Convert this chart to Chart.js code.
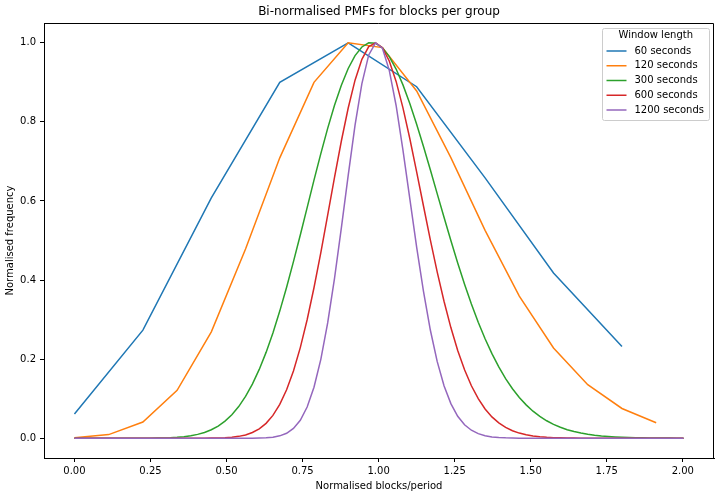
<!DOCTYPE html>
<html>
<head>
<meta charset="utf-8">
<script src="https://cdn.jsdelivr.net/npm/chart.js@4.4.1/dist/chart.umd.min.js"></script>
<style>
  html, body { margin: 0; padding: 0; background: #fff; }
</style>
</head>
<body>
<canvas id="myChart" width="720" height="496"></canvas>
<script>
// 60 s and 120 s windows have coarse steps
var x60 = [0, 0.225, 0.45, 0.675, 0.9, 1.125, 1.35, 1.575, 1.8];
var y60 = [0.0615, 0.2734, 0.6075, 0.9, 1.0, 0.8889, 0.6584, 0.418, 0.2322];

var x120 = [0, 0.1125, 0.225, 0.3375, 0.45, 0.5625, 0.675, 0.7875, 0.9,
            1.0125, 1.125, 1.2375, 1.35, 1.4625, 1.575, 1.6875, 1.8, 1.9125];
var y120 = [0.001, 0.0092, 0.0409, 0.1211, 0.2691, 0.4785, 0.709, 0.9, 1.0,
            0.9878, 0.8781, 0.7097, 0.5257, 0.3595, 0.2283, 0.1353, 0.0752, 0.0393];

// finer grid shared by the longer windows
var xFine = [
  0, 0.0225, 0.045, 0.0675, 0.09, 0.1125, 0.135, 0.1575, 0.18, 0.2025,
  0.225, 0.2475, 0.27, 0.2925, 0.315, 0.3375, 0.36, 0.3825, 0.405, 0.4275,
  0.45, 0.4725, 0.495, 0.5175, 0.54, 0.5625, 0.585, 0.6075, 0.63, 0.6525,
  0.675, 0.6975, 0.72, 0.7425, 0.765, 0.7875, 0.81, 0.8325, 0.855, 0.8775,
  0.9, 0.9225, 0.945, 0.9675, 0.99, 1.0125, 1.035, 1.0575, 1.08, 1.1025,
  1.125, 1.1475, 1.17, 1.1925, 1.215, 1.2375, 1.26, 1.2825, 1.305, 1.3275,
  1.35, 1.3725, 1.395, 1.4175, 1.44, 1.4625, 1.485, 1.5075, 1.53, 1.5525,
  1.575, 1.5975, 1.62, 1.6425, 1.665, 1.6875, 1.71, 1.7325, 1.755, 1.7775,
  1.8, 1.8225, 1.845, 1.8675, 1.89, 1.9125, 1.935, 1.9575, 1.98, 2.0025
];

var y300 = [
  0, 0, 0, 0, 0, 0, 0, 0, 0, 0,
  0.0001, 0.0002, 0.0004, 0.0008, 0.0014, 0.0024, 0.0039, 0.0062, 0.0097, 0.0146,
  0.0214, 0.0308, 0.0433, 0.0595, 0.0801, 0.1057, 0.1368, 0.174, 0.2171, 0.2663,
  0.3215, 0.3818, 0.4465, 0.5139, 0.5833, 0.6526, 0.7198, 0.7835, 0.8418, 0.8927,
  0.935, 0.9676, 0.9894, 1.0, 0.9991, 0.9873, 0.9651, 0.9335, 0.8935, 0.8467,
  0.7941, 0.7379, 0.6787, 0.6185, 0.5586, 0.4998, 0.4432, 0.3896, 0.3397, 0.2935,
  0.2516, 0.2139, 0.1804, 0.1509, 0.1252, 0.1031, 0.0844, 0.0684, 0.0551, 0.0441,
  0.035, 0.0276, 0.0216, 0.0168, 0.013, 0.01, 0.0076, 0.0057, 0.0043, 0.0032,
  0.0024, 0.0018, 0.0013, 0.0009, 0.0007, 0.0005, 0.0004, 0.0003, 0.0002, 0.0001
];

var y600 = [
  0, 0, 0, 0, 0, 0, 0, 0, 0, 0,
  0, 0, 0, 0, 0, 0, 0, 0, 0, 0.0001,
  0.0003, 0.0007, 0.0013, 0.0026, 0.0047, 0.0084, 0.0144, 0.0237, 0.0376, 0.0577,
  0.0855, 0.1226, 0.1702, 0.2292, 0.2996, 0.3805, 0.4696, 0.5639, 0.6596, 0.7516,
  0.8351, 0.9055, 0.958, 0.9902, 1.0, 0.9875, 0.9539, 0.9023, 0.8353, 0.7579,
  0.6734, 0.5872, 0.5017, 0.4206, 0.3463, 0.2798, 0.222, 0.1731, 0.1327, 0.0999,
  0.074, 0.0539, 0.0387, 0.0273, 0.0189, 0.013, 0.0087, 0.0058, 0.0038, 0.0024,
  0.0015, 0.001, 0.0006, 0.0004, 0.0002, 0.0001, 0, 0, 0, 0,
  0, 0, 0, 0, 0, 0, 0, 0, 0, 0
];

var y1200 = [
  0, 0, 0, 0, 0, 0, 0, 0, 0, 0,
  0, 0, 0, 0, 0, 0, 0, 0, 0, 0,
  0, 0, 0, 0, 0, 0, 0, 0.0004, 0.0011, 0.0027,
  0.006, 0.0126, 0.0247, 0.0455, 0.0789, 0.1291, 0.1995, 0.2916, 0.4044, 0.5319,
  0.6648, 0.7915, 0.8968, 0.9693, 1.0, 0.9861, 0.9303, 0.8414, 0.7287, 0.6061,
  0.4833, 0.3712, 0.2736, 0.1942, 0.1328, 0.0875, 0.0556, 0.0341, 0.0202, 0.0116,
  0.0064, 0.0034, 0.0018, 0.0009, 0.0004, 0.0002, 0.0001, 0, 0, 0,
  0, 0, 0, 0, 0, 0, 0, 0, 0, 0,
  0, 0, 0, 0, 0, 0, 0, 0, 0, 0
];

var seriesLabels = ['60 seconds', '120 seconds', '300 seconds', '600 seconds', '1200 seconds'];
var seriesColors = ['#1f77b4', '#ff7f0e', '#2ca02c', '#d62728', '#9467bd'];

function pts(xs, ys) {
    return xs.map(function(x, i) { return {x: x, y: ys[i]}; });
}

var font = {family: '"DejaVu Sans", sans-serif', size: 10};

// top/right spines like matplotlib's box
var frameBox = {
    id: 'frameBox',
    afterDatasetsDraw: function(chart) {
        var a = chart.chartArea, ctx = chart.ctx;
        ctx.save();
        ctx.strokeStyle = '#000';
        ctx.lineWidth = 1;
        ctx.beginPath();
        ctx.moveTo(a.left, a.top + 0.5);
        ctx.lineTo(a.right - 0.5, a.top + 0.5);
        ctx.lineTo(a.right - 0.5, a.bottom);
        ctx.stroke();
        ctx.restore();
    }
};

// legend box drawn inside the plot, upper right
var boxLegend = {
    id: 'boxLegend',
    afterDraw: function(chart) {
        var a = chart.chartArea, ctx = chart.ctx;
        ctx.save();
        ctx.font = '10px "DejaVu Sans", sans-serif';
        var maxW = 0;
        seriesLabels.forEach(function(l) { maxW = Math.max(maxW, ctx.measureText(l).width); });
        var pad = 4, handle = 20, gap = 8;
        var w = pad + handle + gap + maxW + pad + 1;
        var right = a.right - 5, top = a.top + 5;
        var left = right - w, h = 92;
        ctx.fillStyle = 'rgba(255,255,255,0.8)';
        ctx.strokeStyle = '#cccccc';
        ctx.lineWidth = 1;
        ctx.beginPath();
        ctx.roundRect(Math.round(left) + 0.5, Math.round(top) + 0.5, Math.round(w), h, 2);
        ctx.fill();
        ctx.stroke();
        ctx.fillStyle = '#000';
        ctx.textBaseline = 'middle';
        ctx.textAlign = 'center';
        ctx.fillText('Window length', left + w / 2, top + 7.5);
        ctx.textAlign = 'left';
        seriesLabels.forEach(function(l, i) {
            var yy = top + 23 + i * 14.75;
            ctx.strokeStyle = seriesColors[i];
            ctx.lineWidth = 1.5;
            ctx.beginPath();
            ctx.moveTo(left + pad, yy);
            ctx.lineTo(left + pad + handle, yy);
            ctx.stroke();
            ctx.fillStyle = '#000';
            ctx.fillText(l, left + pad + handle + gap, yy);
        });
        ctx.restore();
    }
};

var allData = [pts(x60, y60), pts(x120, y120), pts(xFine, y300), pts(xFine, y600), pts(xFine, y1200)];

var ctx = document.getElementById('myChart').getContext('2d');
var myChart = new Chart(ctx, {
    type: 'line',
    data: {
        datasets: seriesLabels.map(function(l, i) {
            return {
                label: l,
                data: allData[i],
                borderColor: seriesColors[i],
                backgroundColor: seriesColors[i],
                borderWidth: 1.5,
                pointRadius: 0,
                tension: 0,
                fill: false,
                order: 5 - i
            };
        })
    },
    options: {
        responsive: false,
        animation: false,
        devicePixelRatio: 1,
        layout: { padding: { left: 0, right: 6, top: 0, bottom: 0 } },
        plugins: {
            legend: { display: false },
            tooltip: { enabled: false },
            title: {
                display: true,
                text: 'Bi-normalised PMFs for blocks per group',
                color: '#000',
                fullSize: false,
                font: { family: '"DejaVu Sans", sans-serif', size: 12, weight: 'normal' },
                padding: { top: 5, bottom: 3.6 }
            }
        },
        scales: {
            x: {
                type: 'linear',
                min: -0.1001,
                max: 2.1026,
                ticks: {
                    stepSize: 0.25,
                    includeBounds: false,
                    autoSkip: false,
                    maxRotation: 0,
                    color: '#000',
                    font: font,
                    padding: 3,
                    callback: function(v) { return v.toFixed(2); }
                },
                grid: { drawOnChartArea: false, drawTicks: true, tickLength: 4, color: '#000' },
                border: { color: '#000', width: 1 },
                title: { display: true, text: 'Normalised blocks/period', color: '#000', font: font, padding: { top: 2, bottom: 4 } },
                afterFit: function(s) { s.height = 38; }
            },
            y: {
                min: -0.05,
                max: 1.05,
                ticks: {
                    stepSize: 0.2,
                    includeBounds: false,
                    color: '#000',
                    font: font,
                    padding: 4,
                    callback: function(v) { return v.toFixed(1); }
                },
                grid: { drawOnChartArea: false, drawTicks: true, tickLength: 4, color: '#000' },
                border: { color: '#000', width: 1 },
                title: { display: true, text: 'Normalised frequency', color: '#000', font: font, padding: { top: 4, bottom: 2 } },
                afterFit: function(s) { s.width = 44; }
            }
        }
    },
    plugins: [frameBox, boxLegend]
});
</script>
</body>
</html>
